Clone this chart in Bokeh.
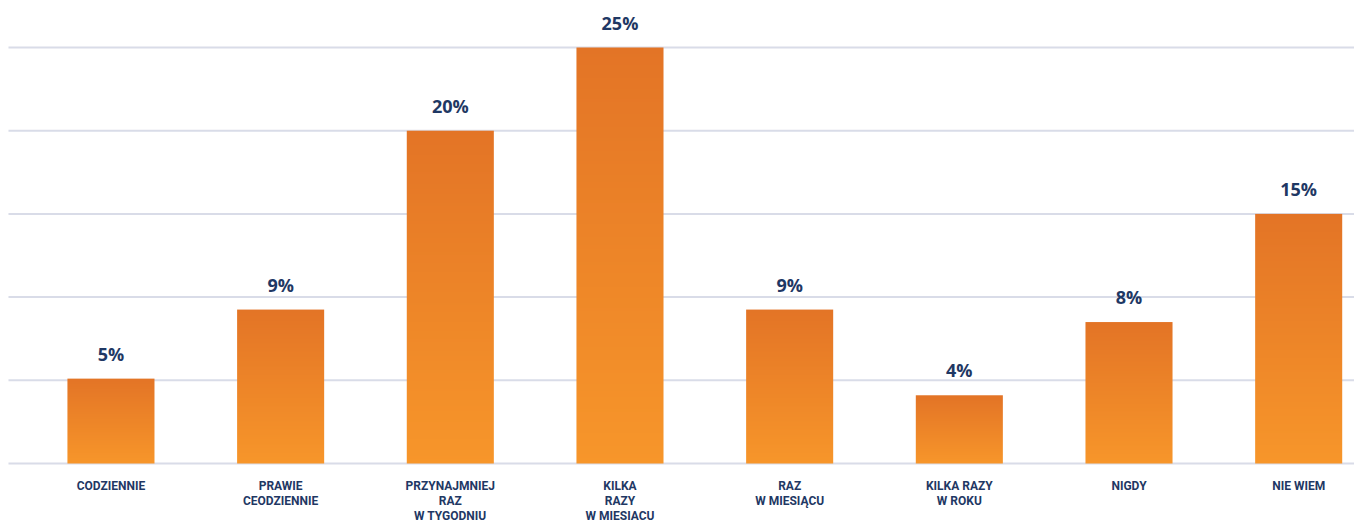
import numpy as np
from bokeh.plotting import figure
from bokeh.models import ColumnDataSource, Range1d
from bokeh.core.properties import value
from bokeh.embed import file_html
from bokeh.resources import INLINE

categories = ["CODZIENNIE", "PRAWIE\nCEODZIENNIE", "PRZYNAJMNIEJ\nRAZ\nW TYGODNIU",
              "KILKA\nRAZY\nW MIESIACU", "RAZ\nW MIESIĄCU", "KILKA RAZY\nW ROKU",
              "NIGDY", "NIE WIEM"]
values = [5.1, 9.25, 20.0, 25.0, 9.25, 4.1, 8.5, 15.0]
value_labels = ["5%", "9%", "20%", "25%", "9%", "4%", "8%", "15%"]
grid_ticks = [0, 5, 10, 15, 20, 25]

TOP = np.array([0xE3, 0x74, 0x26])
BOT = np.array([0xF7, 0x96, 0x2A])
NAVY = "#1F3864"

X0, X1 = -0.651, 7.329
p = figure(width=1354, height=522, output_backend="svg", toolbar_location=None,
           x_range=Range1d(X0, X1), y_range=Range1d(-3.546, 27.825),
           min_border=0, min_border_left=0, min_border_right=0,
           min_border_top=0, min_border_bottom=0)
p.axis.visible = False
p.xgrid.visible = False
p.ygrid.visible = False
p.outline_line_color = None

# grid lines
gx0 = -0.604
p.segment(x0=[gx0] * len(grid_ticks), x1=[X1] * len(grid_ticks), y0=grid_ticks, y1=grid_ticks,
          line_color="#D9DCE8", line_width=2)

# gradient bars as vertical gradient images
w = 0.513
H = 256
imgs, xs, dws, dhs = [], [], [], []
for i, v in enumerate(values):
    frac = (np.arange(H) + 0.5) / H  # row 0 = bottom
    rgb = BOT[None, :] + (TOP - BOT)[None, :] * frac[:, None]
    rgb = np.round(rgb).astype(np.uint32)
    img = (255 << 24) | (rgb[:, 2] << 16) | (rgb[:, 1] << 8) | rgb[:, 0]
    img = np.repeat(img[:, None], 2, axis=1).astype(np.uint32)
    imgs.append(img); xs.append(i - w / 2); dws.append(w); dhs.append(v)
p.image_rgba(image=imgs, x=xs, y=[0] * len(values), dw=dws, dh=dhs)

# value labels
src = ColumnDataSource(dict(x=list(range(len(values))), y=values, txt=value_labels))
p.text(x="x", y="y", text="txt", source=src, text_align="center", text_baseline="middle",
       y_offset=-25, text_font=value("Open Sans"), text_font_style="bold",
       text_font_size="18px", text_color=NAVY)

# category labels, line by line
lx, ly, lt, lo = [], [], [], []
for i, c in enumerate(categories):
    for j, line in enumerate(c.split("\n")):
        lx.append(i); ly.append(0); lt.append(line); lo.append(23 + 15 * j)
csrc = ColumnDataSource(dict(x=lx, y=ly, txt=lt, off=lo))
p.text(x="x", y="y", text="txt", y_offset="off", source=csrc, text_align="center",
       text_baseline="middle", text_font=value("Roboto"),
       text_font_style="bold", text_font_size="12px", text_color=NAVY)

open("out.html", "w").write(file_html(p, INLINE))
